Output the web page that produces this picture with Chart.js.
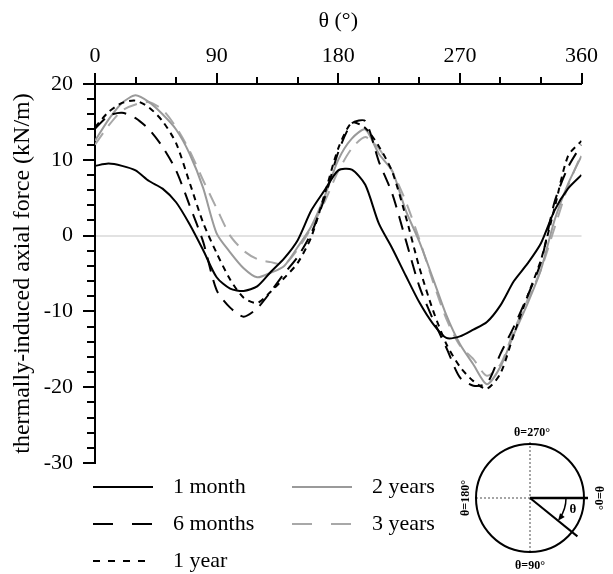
<!DOCTYPE html>
<html>
<head>
<meta charset="utf-8">
<script src="https://cdn.jsdelivr.net/npm/chart.js@4"></script>
<style>
  body { margin: 0; background: #fff; }
  canvas { display: block; }
</style>
</head>
<body>
<canvas id="forceChart" width="613" height="574"></canvas>
<script>
// angle around the pipe, degrees
const theta = [0, 10, 20, 30, 40, 50, 60, 70, 80, 90, 100, 110, 120, 130, 140, 150, 160, 170, 180,
               190, 200, 210, 220, 230, 240, 250, 260, 270, 280, 290, 300, 310, 320, 330, 340, 350, 360];

// thermally-induced axial force, kN/m
const month1 = [9.2, 9.5, 9.2, 8.6, 7.2, 6.2, 4.4, 1.5, -1.9, -5.5, -7.0, -7.3, -6.7, -4.8, -3.0, -0.6, 3.3, 6.0, 8.6,
                8.7, 6.7, 1.6, -1.7, -5.3, -8.8, -11.6, -13.5, -13.3, -12.4, -11.4, -9.2, -6.0, -3.7, -1.0, 3.3, 6.2, 8.0];
const months6 = [14.1, 15.8, 16.2, 15.5, 14.0, 11.7, 8.6, 4.0, -0.8, -7.2, -9.5, -10.7, -9.6, -7.4, -5.0, -2.8, 0.3, 5.0, 11.0,
                 14.8, 15.1, 9.8, 5.5, -0.6, -6.7, -11.0, -14.8, -18.7, -19.8, -19.5, -15.6, -12.0, -8.0, -3.5, 4.4, 9.0, 12.0];
const year1 = [14.3, 16.3, 17.5, 17.8, 16.9, 15.1, 12.2, 7.0, 1.7, -2.3, -5.8, -8.2, -8.9, -7.4, -5.6, -3.6, -0.2, 5.5, 11.5,
               14.9, 14.2, 11.8, 8.4, 2.5, -4.2, -9.8, -14.3, -17.3, -19.2, -20.2, -18.2, -13.0, -8.0, -3.2, 3.6, 10.5, 12.5];
const years2 = [12.5, 15.3, 17.5, 18.5, 17.6, 16.0, 14.0, 10.8, 6.3, 0.3, -2.2, -4.3, -5.5, -4.9, -4.0, -1.5, 1.2, 5.2, 10.0,
                12.8, 14.0, 10.8, 8.5, 3.3, -0.8, -5.6, -10.5, -14.3, -17.0, -19.6, -17.3, -13.0, -9.0, -4.5, 2.0, 6.8, 10.5];
const years3 = [12.0, 14.5, 16.5, 17.3, 17.6, 16.6, 14.3, 11.2, 7.3, 3.6, 0.0, -2.0, -3.1, -3.5, -3.8, -1.8, 1.0, 4.5, 8.5,
                11.5, 13.0, 11.5, 8.5, 4.5, -0.5, -6.0, -11.0, -14.5, -16.3, -18.5, -17.0, -12.5, -8.5, -4.5, 1.0, 6.5, 10.8];

const seriesNames = ['1 month', '6 months', '1 year', '2 years', '3 years'];
const seriesValues = [month1, months6, year1, years2, years3];

const colours = ['#000000', '#000000', '#000000', '#9a9a9a', '#a8a8a8'];
const dashes = [[], [14, 9], [6, 5], [], [14, 9]];
const legendDashes = [[], [20, 19], [7, 8], [], [20, 19]];

const serif = "'Liberation Serif', 'DejaVu Serif', serif";

function toPoints(vals) {
    return theta.map((t, i) => ({ x: t, y: vals[i] }));
}

// ticks, legend and the little pipe sketch in the corner
const decor = {
    id: 'decor',
    afterDraw(chart) {
        const { ctx, scales: { x, y }, chartArea: area } = chart;
        ctx.save();
        ctx.strokeStyle = '#000';
        ctx.lineWidth = 2;
        ctx.beginPath();
        for (let v = 0; v <= 360; v += 30) {
            const px = Math.round(x.getPixelForValue(v));
            const len = v % 90 === 0 ? 11 : 7;
            ctx.moveTo(px, area.top);
            ctx.lineTo(px, area.top - len);
        }
        for (let v = -30; v <= 20; v += 2) {
            const py = Math.round(y.getPixelForValue(v));
            const len = v % 10 === 0 ? 12 : 8;
            ctx.moveTo(area.left, py);
            ctx.lineTo(area.left - len, py);
        }
        ctx.stroke();

        // legend
        ctx.font = '22px ' + serif;
        ctx.fillStyle = '#000';
        ctx.textBaseline = 'middle';
        chart.data.datasets.forEach((ds, i) => {
            const col = i < 3 ? 0 : 1;
            const row = i < 3 ? i : i - 3;
            const lx = col ? 292 : 93;
            const ly = 487 + row * 37;
            ctx.strokeStyle = ds.borderColor;
            ctx.lineWidth = 2;
            ctx.setLineDash(legendDashes[i]);
            ctx.beginPath();
            ctx.moveTo(lx, ly);
            ctx.lineTo(lx + 60, ly);
            ctx.stroke();
            ctx.setLineDash([]);
            ctx.fillText(ds.label, lx + 80, ly);
        });

        // pipe cross-section sketch
        const cx = 530, cy = 498, r = 54;
        ctx.strokeStyle = '#888';
        ctx.lineWidth = 1.5;
        ctx.setLineDash([2, 2]);
        ctx.beginPath();
        ctx.moveTo(cx - r, cy); ctx.lineTo(cx, cy);
        ctx.moveTo(cx, cy - r - 2); ctx.lineTo(cx, cy + r + 2);
        ctx.stroke();
        ctx.setLineDash([]);

        ctx.strokeStyle = '#000';
        ctx.lineWidth = 2;
        ctx.beginPath();
        ctx.arc(cx, cy, r, 0, Math.PI * 2);
        ctx.stroke();

        ctx.lineWidth = 2.5;
        ctx.beginPath();
        ctx.moveTo(cx, cy); ctx.lineTo(cx + 58, cy);
        ctx.stroke();

        const a = 39 * Math.PI / 180;
        ctx.lineWidth = 2;
        ctx.beginPath();
        ctx.moveTo(cx, cy);
        ctx.lineTo(cx + 61 * Math.cos(a), cy + 61 * Math.sin(a));
        ctx.stroke();

        const ar = 36;
        ctx.lineWidth = 1.5;
        ctx.beginPath();
        ctx.arc(cx, cy, ar, 0, a - 0.08);
        ctx.stroke();
        const ex = cx + ar * Math.cos(a), ey = cy + ar * Math.sin(a);
        const tx = -Math.sin(a), ty = Math.cos(a);
        const nx = Math.cos(a), ny = Math.sin(a);
        ctx.fillStyle = '#000';
        ctx.beginPath();
        ctx.moveTo(ex, ey);
        ctx.lineTo(ex - tx * 7 + nx * 3, ey - ty * 7 + ny * 3);
        ctx.lineTo(ex - tx * 7 - nx * 3, ey - ty * 7 - ny * 3);
        ctx.closePath();
        ctx.fill();

        ctx.font = 'bold 13px ' + serif;
        ctx.textAlign = 'center';
        ctx.textBaseline = 'middle';
        ctx.fillText('θ', 573, 510);
        ctx.font = 'bold 12px ' + serif;
        ctx.fillText('θ=270°', 532, 433);
        ctx.fillText('θ=90°', 530, 566);
        ctx.save();
        ctx.translate(466, cy);
        ctx.rotate(-Math.PI / 2);
        ctx.fillText('θ=180°', 0, 0);
        ctx.restore();
        ctx.save();
        ctx.translate(598, cy);
        ctx.rotate(Math.PI / 2);
        ctx.fillText('θ=0°', 0, 0);
        ctx.restore();

        ctx.restore();
    }
};

new Chart(document.getElementById('forceChart'), {
    type: 'line',
    data: {
        datasets: seriesNames.map((name, i) => ({
            label: name,
            data: toPoints(seriesValues[i]),
            borderColor: colours[i],
            borderDash: dashes[i],
            borderWidth: 2,
            pointRadius: 0,
            fill: false,
            tension: 0.25
        }))
    },
    options: {
        responsive: false,
        animation: false,
        devicePixelRatio: 1,
        layout: { padding: { right: 18, bottom: 111 } },
        plugins: {
            legend: { display: false },
            tooltip: { enabled: false }
        },
        scales: {
            x: {
                type: 'linear',
                position: 'top',
                min: 0,
                max: 360,
                afterFit: s => { s.height = 84; },
                ticks: {
                    stepSize: 30,
                    autoSkip: false,
                    maxRotation: 0,
                    padding: 15,
                    color: '#000',
                    font: { family: serif, size: 22 },
                    callback: v => (v % 90 === 0 ? String(v) : '')
                },
                grid: { display: false, drawTicks: false },
                border: { color: '#000', width: 2 },
                title: {
                    display: true,
                    text: 'θ (°)',
                    color: '#000',
                    font: { family: serif, size: 22 },
                    padding: { top: 8, bottom: 0 }
                }
            },
            y: {
                min: -30,
                max: 20,
                afterFit: s => { s.width = 95; },
                ticks: {
                    stepSize: 2,
                    autoSkip: false,
                    padding: 22,
                    color: '#000',
                    font: { family: serif, size: 22 },
                    callback: v => (v % 10 === 0 ? String(v) : '')
                },
                grid: {
                    drawTicks: false,
                    lineWidth: 2,
                    color: ctx => (ctx.tick && ctx.tick.value === 0 ? '#e2e2e2' : 'rgba(0,0,0,0)')
                },
                border: { color: '#000', width: 2 },
                title: {
                    display: true,
                    text: 'thermally-induced axial force (kN/m)',
                    color: '#000',
                    font: { family: serif, size: 24 },
                    padding: { top: 8, bottom: 0 }
                }
            }
        }
    },
    plugins: [decor]
});
</script>
</body>
</html>
